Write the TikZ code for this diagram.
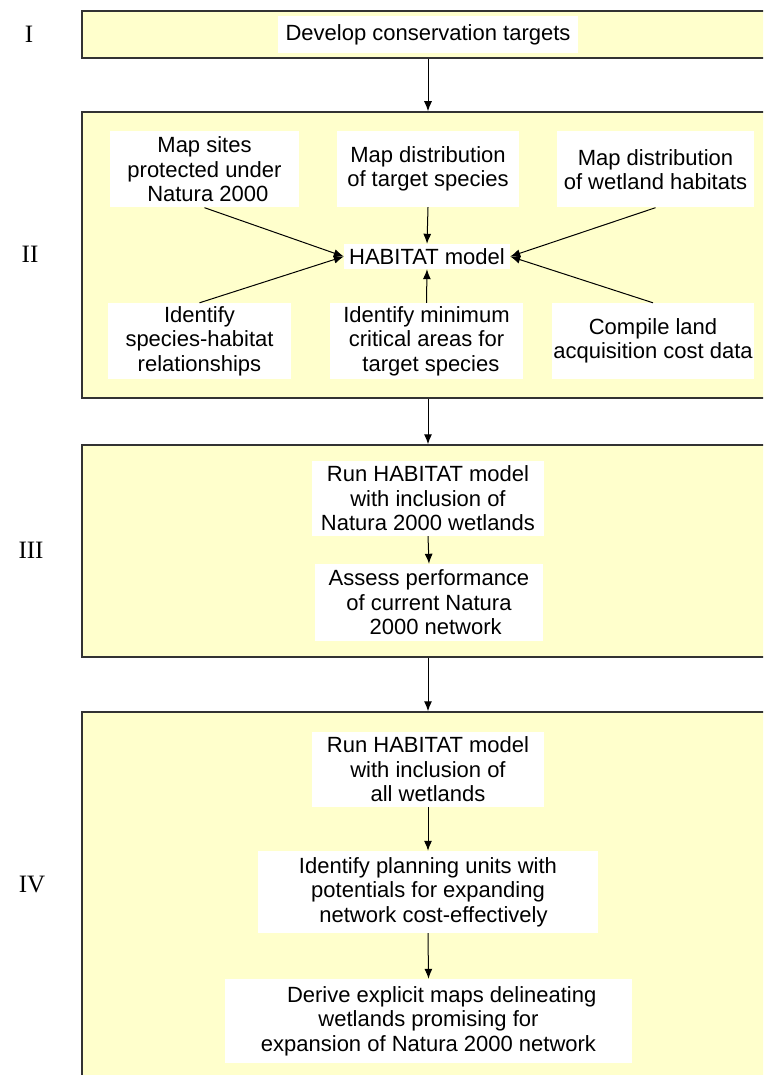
\documentclass[tikz,border=0pt]{standalone}
\usepackage{fontspec}
\setmainfont{Liberation Sans}
\newfontfamily\numeralfont{Liberation Serif}
\usetikzlibrary{arrows.meta}
\definecolor{panelfill}{HTML}{FFFFCC}
\definecolor{paneledge}{HTML}{333333}
\begin{document}
\begin{tikzpicture}[x=1pt,y=-1pt,
  panel/.style={rectangle,draw=paneledge,line width=1.5pt,fill=panelfill,inner sep=0pt},
  stepbox/.style={rectangle,fill=white,inner sep=0pt,align=center,
    font=\fontsize{22}{24.5}\selectfont},
  numeral/.style={font=\numeralfont\fontsize{25}{28}\selectfont,inner sep=0pt},
  arr/.style={line width=1pt,-{Latex[length=10pt,width=8pt]}}]
\useasboundingbox (0,0) rectangle (763,1075);
\clip (0,0) rectangle (763,1075);

% stage panels (they run on past the right and bottom edges)
\node[panel,minimum width=708,minimum height=47]  (P1) at (436,34.5) {};
\node[panel,minimum width=708,minimum height=286] (P2) at (436,255) {};
\node[panel,minimum width=708,minimum height=212] (P3) at (436,551) {};
\node[panel,minimum width=708,minimum height=400] (P4) at (436,912) {};

% stage numerals
\node[numeral] (R1) at (29,34)  {I};
\node[numeral] (R2) at (30,254) {II};
\node[numeral] (R3) at (31,550) {III};
\node[numeral] (R4) at (32,884) {IV};

% stage I
\node[stepbox,minimum width=300,minimum height=37] (T0) at (428,34.5) {Develop conservation targets};

% stage II
\node[stepbox,minimum width=189,minimum height=76] (A1) at (204.5,169.5) {Map sites\\protected under\\\hspace*{0.3em}Natura 2000};
\node[stepbox,minimum width=182,minimum height=76] (A2) at (428,169) {Map distribution\\of target species};
\node[stepbox,minimum width=197,minimum height=76] (A3) at (655.5,169.5) {Map distribution\\of wetland habitats};
\node[stepbox,minimum width=166,minimum height=25] (H)  at (427,256.5) {HABITAT model};
\node[stepbox,minimum width=183,minimum height=76] (B1) at (199.5,341) {Identify\\species-habitat\\relationships};
\node[stepbox,minimum width=193,minimum height=76] (B2) at (426.5,341) {Identify minimum\\critical areas for\\\hspace*{0.4em}target species};
\node[stepbox,minimum width=202,minimum height=76] (B3) at (653,341) {Compile land\\acquisition cost data};

% stage III
\node[stepbox,minimum width=232,minimum height=75] (C1) at (428,498.5) {Run HABITAT model\\with inclusion of\\Natura 2000 wetlands};
\node[stepbox,minimum width=228,minimum height=77] (C2) at (429,602.5) {Assess performance\\of current Natura\\\hspace*{0.6em}2000 network};

% stage IV
\node[stepbox,minimum width=232,minimum height=75] (D1) at (428,769.5) {Run HABITAT model\\with inclusion of\\all wetlands};
\node[stepbox,minimum width=340,minimum height=82] (D2) at (428,892) {Identify planning units with\\potentials for expanding\\\hspace*{0.5em}network cost-effectively};
\node[stepbox,minimum width=407,minimum height=84] (D3) at (428.5,1021) {\hspace*{1.2em}Derive explicit maps delineating\\wetlands promising for\\expansion of Natura 2000 network};

% links between stages
\draw[arr] (T0 |- P1.south) -- (T0 |- P2.north);
\draw[arr] (T0 |- P2.south) -- (T0 |- P3.north);
\draw[arr] (T0 |- P3.south) -- (T0 |- P4.north);

% inputs to the HABITAT model
\draw[arr] (A1.south) -- (H.west);
\draw[arr] (B1.north) -- (H.west);
\draw[arr] (A3.south) -- (H.east);
\draw[arr] (B3.north) -- (H.east);
\draw[arr] (A2.south) -- (H.north);
\draw[arr] (B2.north) -- (H.south);

% steps within stages III and IV
\draw[arr] (C1.south) -- (C2.north);
\draw[arr] (D1.south) -- (D2.north);
\draw[arr] (D2.south) -- (D3.north);
\end{tikzpicture}
\end{document}
